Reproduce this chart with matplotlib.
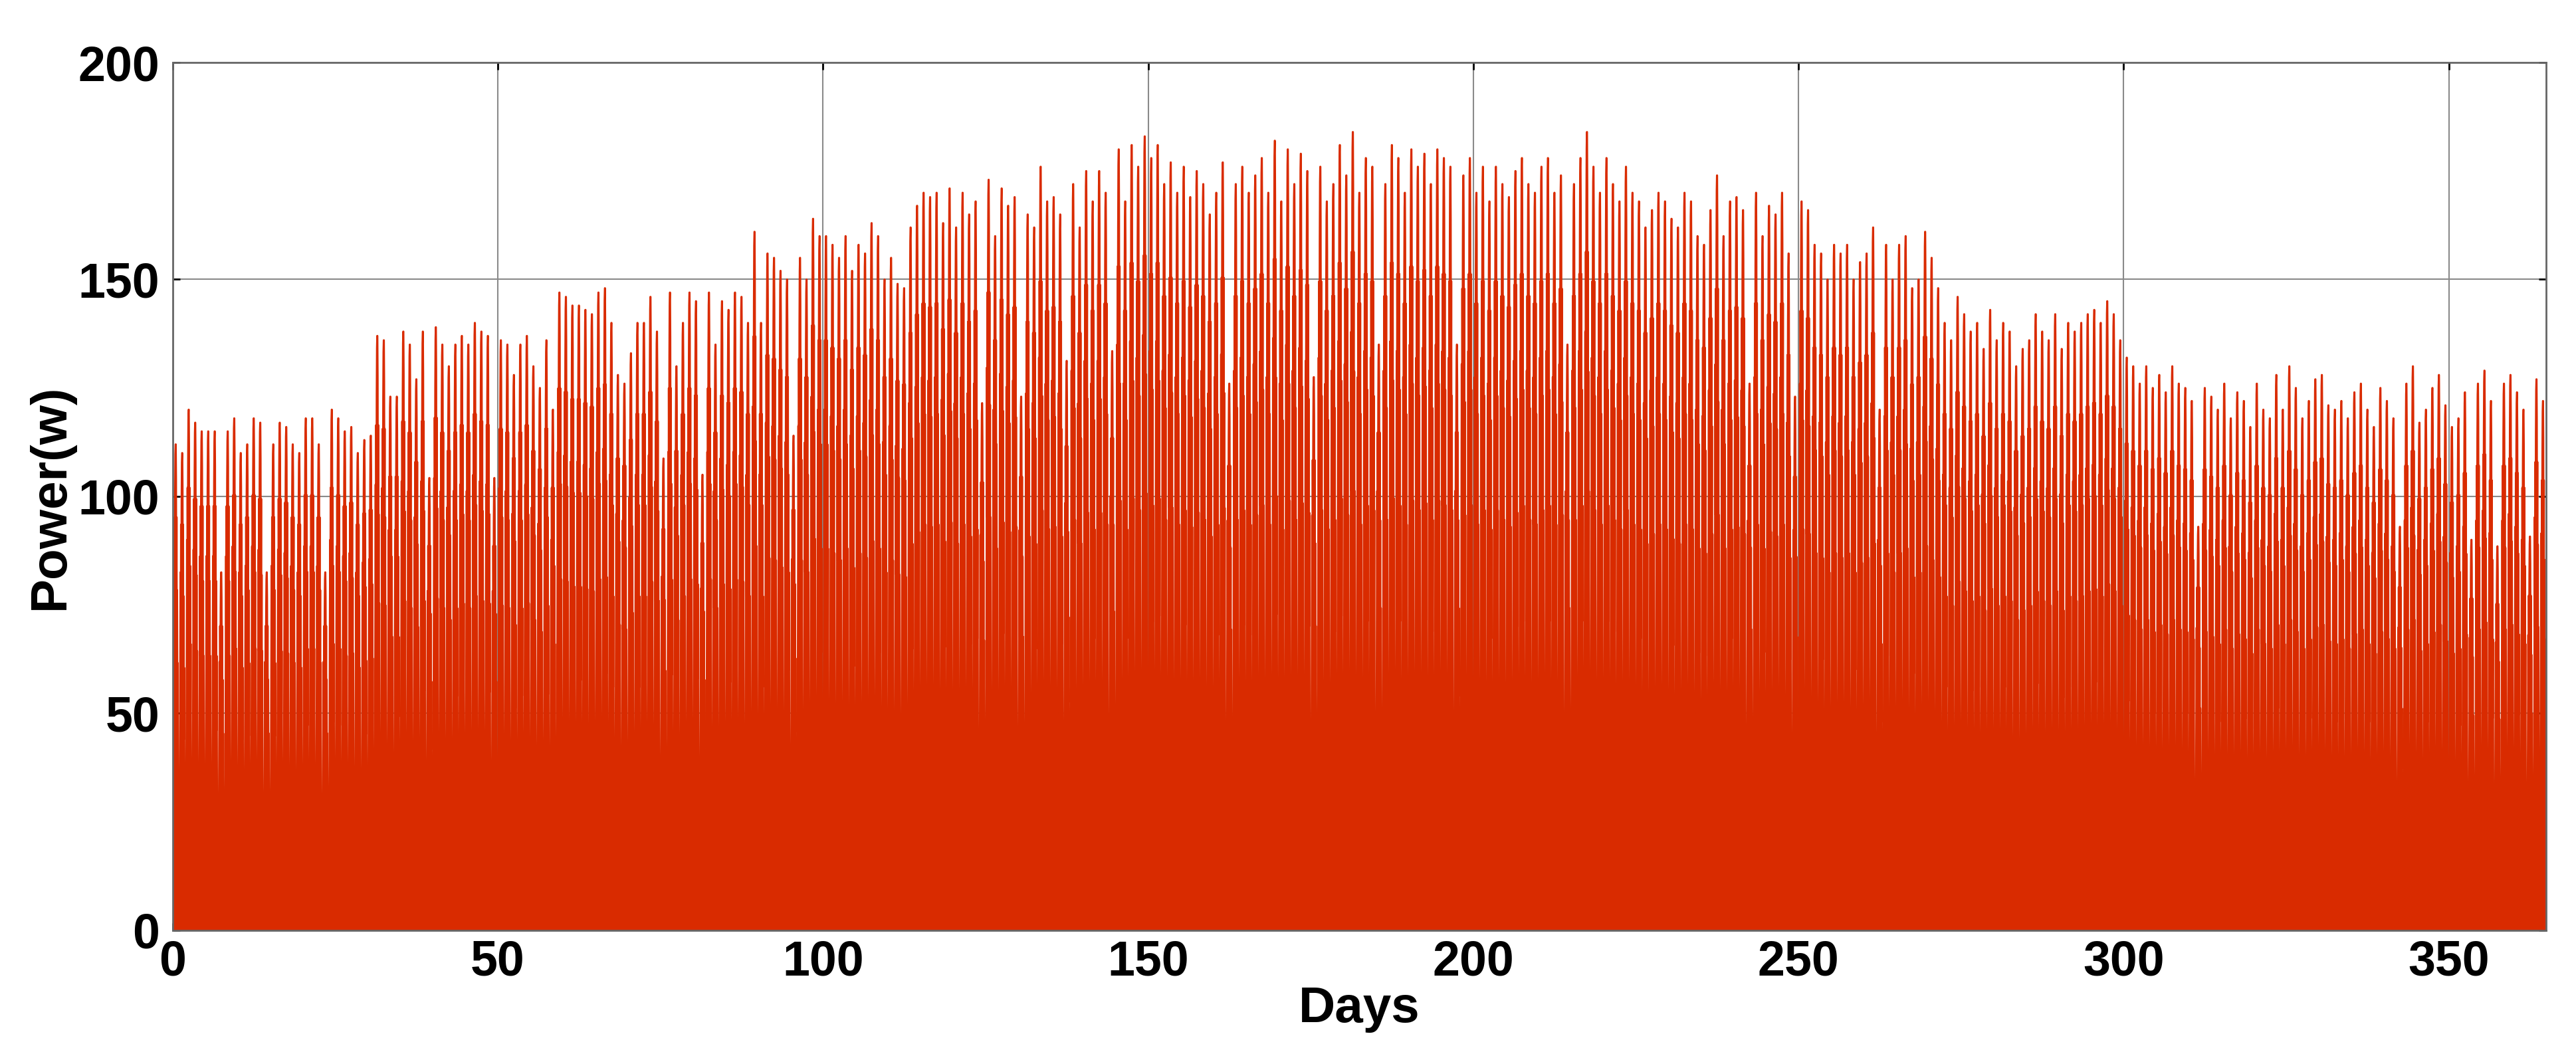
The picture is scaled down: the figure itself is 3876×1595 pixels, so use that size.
import numpy as np
import matplotlib
matplotlib.use("Agg")
import matplotlib.pyplot as plt

plt.rcParams['font.family'] = ['Liberation Sans', 'DejaVu Sans']

# Daily peak power (W), read from envelope, days 0..364
peaks = [
112,110,120,117,115,115,115,110,115,118, 110,112,118,117,110,112,117,116,112,110,
118,118,112,110,120,118,115,116,110,113, 114,137,136,123,123,138,135,127,138,139,
139,135,130,135,137,135,140,138,137,139, 136,135,128,135,137,130,125,136,120,147,
146,144,144,143,142,147,148,140,128,126, 133,140,140,146,138,145,147,130,140,147,
145,140,147,135,145,143,147,146,140,161, 140,156,155,152,150,152,155,150,164,160,
160,158,155,160,152,158,156,163,160,150, 155,149,148,162,167,170,169,170,163,171,
162,170,165,168,162,173,160,171,167,169, 164,165,162,176,168,169,165,175,172,162,
175,168,175,170,178,180,168,181,176,183, 178,181,172,177,170,176,169,175,172,165,
170,177,168,172,176,170,174,178,170,182, 168,180,172,179,175,170,176,168,172,181,
174,184,170,178,176,180,172,181,178,170, 180,176,179,172,180,178,176,180,174,178,
170,176,168,176,172,169,175,178,172,170, 176,178,170,174,180,172,178,184,176,170,
178,172,168,176,170,168,162,166,170,168, 164,162,170,168,160,158,166,174,160,168,
169,166,168,170,160,167,165,170,156,164, 168,166,158,156,150,158,156,158,150,154,
156,162,160,158,150,158,160,148,150,161, 155,148,140,136,146,142,138,140,134,143,
136,140,138,130,134,136,142,138,136,142, 134,140,138,140,142,143,140,145,142,136,
132,130,126,130,125,128,124,130,126,125, 122,124,125,123,120,126,118,124,122,116,
126,120,118,128,120,130,125,118,122,127, 128,121,120,122,118,124,126,120,116,125,
122,118,124,126,130,117,120,125,128,121, 116,118,124,120,126,129,122,118,126,128,
124,120,121,127,122,
]

# Normalised hourly shape (hours 0..23)
hour_shape = [0,0,0.2,0.45,0.6,0.75,0.55,0.85,0.7,0.9,0.98,1.0,1.0,0.93,0.65,0.85,0.5,0.7,0.4,0.55,0.3,0.1,0,0]

# Days with cloudy dips
dip_days = [7, 14, 23, 39, 49, 75, 81, 95, 124, 130, 137, 144, 162, 175, 185, 197, 214, 242, 249, 262, 311, 342, 353, 357, 362]

power = []
for d, p in enumerate(peaks):
    f = 0.75 if d in dip_days else 1.0
    for h in hour_shape:
        power.append(p * h * f)
power = np.array(power)
t = np.arange(len(power)) / 24.0

fig = plt.figure(figsize=(38.76, 15.95), dpi=100)
ax = fig.add_axes([0.067, 0.1225, 0.9215, 0.8185])
ax.set_axisbelow(True)
ax.plot(t, power, color="#D92B00", lw=2)
ax.fill_between(t, power, color="#D92B00", lw=0)
ax.set_xlim(0, 365)
ax.set_ylim(0, 200)
ax.set_xticks(range(0, 351, 50))
ax.set_yticks(range(0, 201, 50))
ax.grid(True, color="#8a8a8a", lw=1.5)
ax.tick_params(labelsize=53, width=2, length=8, top=True, right=True, direction="in")
ax.tick_params(axis="x", pad=10)
ax.tick_params(axis="y", pad=14)
for lab in ax.get_xticklabels() + ax.get_yticklabels():
    lab.set_fontweight("bold")
ax.set_xlabel("Days", fontsize=55, fontweight="bold", labelpad=0)
ax.set_ylabel("Power(w)", fontsize=55, fontweight="bold", labelpad=4)
for s in ax.spines.values():
    s.set_color("#666666")
    s.set_linewidth(2)
fig.savefig("out.png", dpi=100)
